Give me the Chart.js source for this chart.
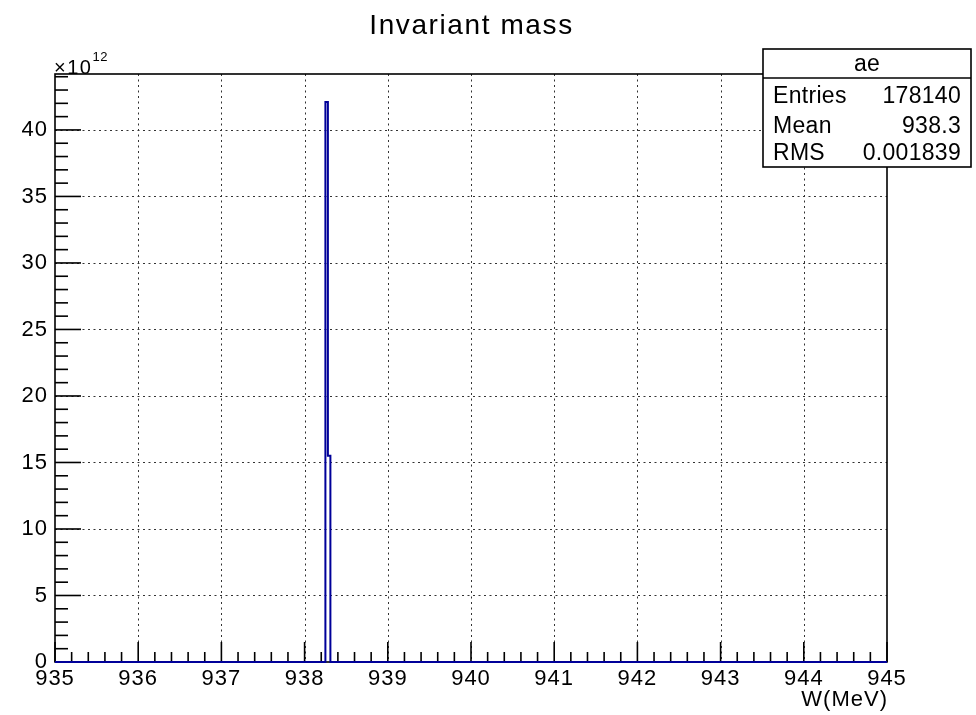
<!DOCTYPE html>
<html>
<head>
<meta charset="utf-8">
<title>Invariant mass</title>
<script src="https://cdn.jsdelivr.net/npm/chart.js@4.4.1/dist/chart.umd.min.js"></script>
<style>
    html, body { margin: 0; padding: 0; background: #fff; }
    #wrap { width: 976px; height: 715px; }
</style>
</head>
<body>
<div id="wrap"><canvas id="mass" width="976" height="715"></canvas></div>
<script>
// histogram "ae": invariant mass W in MeV
const histName = "ae";
const histTitle = "Invariant mass";
const xTitle = "W(MeV)";
const xRange = [935, 945];
const binEdges = [938.25, 938.28, 938.31];
const binContents = [42.1e12, 15.5e12];
const xTickValues = [935, 936, 937, 938, 939, 940, 941, 942, 943, 944, 945];
const yTickValues = [0, 5e12, 10e12, 15e12, 20e12, 25e12, 30e12, 35e12, 40e12];
const yExponent = 12;
const statLabels = ["Entries", "Mean", "RMS"];
const statValues = ["178140", "938.3", "0.001839"];

const FONT = "'Liberation Sans', Arial, Helvetica, sans-serif";
const LINE_BLUE = "#000099";
const yMax = Math.max(...binContents) * 1.05;

// outline of the histogram: each point is a bin's low edge with its content
// (stepped "before" runs flat to the next point, then steps)
const histPoints = [{ x: xRange[0], y: 0 }];
binEdges.forEach((edge, i) => {
    histPoints.push({ x: edge, y: i < binContents.length ? binContents[i] : 0 });
});
histPoints.push({ x: xRange[1], y: 0 });

const nearTick = (v, list) => list.some(t => Math.abs(t - v) < 1e-6 * Math.max(1, Math.abs(t)));

const line = (ctx, x1, y1, x2, y2) => {
    ctx.beginPath();
    ctx.moveTo(x1, y1);
    ctx.lineTo(x2, y2);
    ctx.stroke();
};

const rootFrame = {
    id: "rootFrame",
    beforeDraw(chart) {
        const ctx = chart.ctx;
        ctx.save();
        ctx.fillStyle = "#fff";
        ctx.fillRect(0, 0, chart.width, chart.height);
        ctx.restore();
        ctx.letterSpacing = "1px";
    },
    beforeDatasetsDraw(chart) {
        const { ctx, chartArea: a, scales } = chart;
        const xs = scales.x;
        const ys = scales.y;
        ctx.save();

        // dotted grid at the major divisions
        ctx.strokeStyle = "#333";
        ctx.lineWidth = 1;
        ctx.setLineDash([2, 3.5]);
        xTickValues.slice(1, -1).forEach(v => {
            const px = Math.round(xs.getPixelForValue(v)) + 0.5;
            line(ctx, px, a.top, px, a.bottom);
        });
        yTickValues.slice(1).forEach(v => {
            const py = Math.round(ys.getPixelForValue(v)) + 0.5;
            line(ctx, a.left, py, a.right, py);
        });
        ctx.setLineDash([]);

        // frame
        ctx.strokeStyle = "#000";
        ctx.lineWidth = 1.6;
        ctx.strokeRect(a.left, a.top, a.right - a.left, a.bottom - a.top);

        // tick marks, drawn inwards
        ctx.lineWidth = 1.6;
        const yUnit = Math.pow(10, yExponent);
        for (let k = 0; k * yUnit <= yMax; k++) {
            const v = k * yUnit;
            const py = ys.getPixelForValue(v);
            const len = nearTick(v, yTickValues) ? 26 : 13;
            line(ctx, a.left, py, a.left + len, py);
        }
        for (let k = 0; k <= 50; k++) {
            const v = xRange[0] + k * 0.2;
            const px = xs.getPixelForValue(v);
            const len = nearTick(v, xTickValues) ? 20 : 10;
            line(ctx, px, a.bottom, px, a.bottom - len);
        }
        ctx.restore();
    },
    afterDraw(chart) {
        const { ctx, chartArea: a } = chart;
        ctx.save();
        ctx.fillStyle = "#000";
        ctx.textBaseline = "alphabetic";

        // title
        ctx.letterSpacing = "1.6px";
        ctx.font = `28px ${FONT}`;
        ctx.textAlign = "center";
        ctx.fillText(histTitle, (a.left + a.right) / 2 + 0.5, 34);

        // common exponent of the y axis
        ctx.letterSpacing = "1.5px";
        ctx.textAlign = "left";
        ctx.font = `20px ${FONT}`;
        ctx.fillText("\u00d710", a.left - 1, 74);
        const w = ctx.measureText("\u00d710").width;
        ctx.letterSpacing = "0.5px";
        ctx.font = `13px ${FONT}`;
        ctx.fillText(String(yExponent), a.left + w - 1, 61);

        // x axis title
        ctx.letterSpacing = "1px";
        ctx.font = `22px ${FONT}`;
        ctx.textAlign = "right";
        ctx.fillText(xTitle, a.right + 1, 706);

        // statistics box
        const bx = 763, by = 49, bw = 208, bh = 118;
        ctx.fillStyle = "#fff";
        ctx.fillRect(bx, by, bw, bh);
        ctx.strokeStyle = "#000";
        ctx.lineWidth = 1.6;
        ctx.strokeRect(bx, by, bw, bh);
        line(ctx, bx, 78, bx + bw, 78);

        ctx.fillStyle = "#000";
        ctx.font = `23px ${FONT}`;
        ctx.letterSpacing = "0.3px";
        ctx.textAlign = "center";
        ctx.fillText(histName, bx + bw / 2, 71);
        const rows = [103, 133, 160];
        statLabels.forEach((label, i) => {
            ctx.textAlign = "left";
            ctx.fillText(label, 773, rows[i]);
            ctx.textAlign = "right";
            ctx.fillText(statValues[i], 961, rows[i]);
        });
        ctx.restore();
    }
};

new Chart(document.getElementById("mass"), {
    type: "line",
    data: {
        datasets: [{
            label: histName,
            data: histPoints,
            stepped: "before",
            borderColor: LINE_BLUE,
            borderWidth: 2,
            pointRadius: 0,
            fill: false,
            clip: 6
        }]
    },
    options: {
        responsive: false,
        animation: false,
        events: [],
        layout: {
            padding: { top: 74, right: 89, left: 0, bottom: 0 }
        },
        plugins: {
            legend: { display: false },
            title: { display: false },
            tooltip: { enabled: false }
        },
        scales: {
            x: {
                type: "linear",
                min: xRange[0],
                max: xRange[1],
                afterFit: (s) => { s.height = 53; },
                afterBuildTicks: (s) => { s.ticks = xTickValues.map(v => ({ value: v })); },
                grid: { display: false, drawTicks: false },
                border: { display: false },
                ticks: {
                    autoSkip: false,
                    maxRotation: 0,
                    padding: 4,
                    color: "#000",
                    font: { family: FONT, size: 22 },
                    callback: (v) => String(v)
                }
            },
            y: {
                type: "linear",
                min: 0,
                max: yMax,
                afterFit: (s) => { s.width = 55; },
                afterBuildTicks: (s) => { s.ticks = yTickValues.map(v => ({ value: v })); },
                grid: { display: false, drawTicks: false },
                border: { display: false },
                ticks: {
                    padding: 7,
                    color: "#000",
                    font: { family: FONT, size: 22 },
                    callback: (v) => String(Math.round(v / Math.pow(10, yExponent)))
                }
            }
        }
    },
    plugins: [rootFrame]
});
</script>
</body>
</html>
